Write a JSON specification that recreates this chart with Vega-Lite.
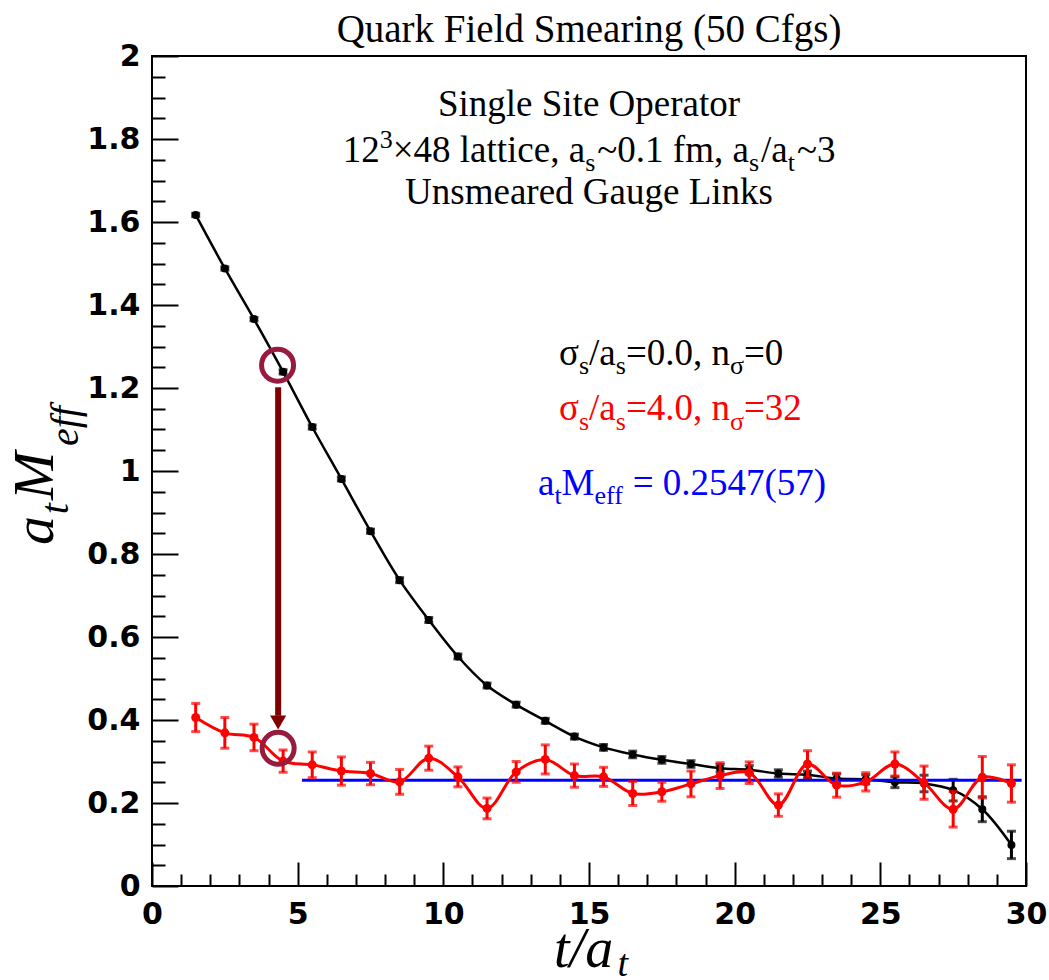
{
  "$schema": "https://vega.github.io/schema/vega-lite/v6.json",
  "width": 874,
  "height": 830,
  "autosize": {"type": "none"},
  "padding": {"left": 152, "top": 56, "right": 23, "bottom": 94},
  "background": "white",
  "config": {
    "view": {"stroke": "black", "strokeWidth": 2},
    "text": {"font": "Liberation Serif"}
  },
  "datasets": {
    "corr": [
      {"t": 1.5, "m": 1.617, "err": 0.004, "series": "unsmeared"},
      {"t": 2.5, "m": 1.488, "err": 0.004, "series": "unsmeared"},
      {"t": 3.5, "m": 1.366, "err": 0.004, "series": "unsmeared"},
      {"t": 4.5, "m": 1.239, "err": 0.005, "series": "unsmeared"},
      {"t": 5.5, "m": 1.106, "err": 0.005, "series": "unsmeared"},
      {"t": 6.5, "m": 0.981, "err": 0.005, "series": "unsmeared"},
      {"t": 7.5, "m": 0.855, "err": 0.005, "series": "unsmeared"},
      {"t": 8.5, "m": 0.737, "err": 0.006, "series": "unsmeared"},
      {"t": 9.5, "m": 0.641, "err": 0.006, "series": "unsmeared"},
      {"t": 10.5, "m": 0.553, "err": 0.006, "series": "unsmeared"},
      {"t": 11.5, "m": 0.483, "err": 0.006, "series": "unsmeared"},
      {"t": 12.5, "m": 0.437, "err": 0.006, "series": "unsmeared"},
      {"t": 13.5, "m": 0.398, "err": 0.006, "series": "unsmeared"},
      {"t": 14.5, "m": 0.36, "err": 0.006, "series": "unsmeared"},
      {"t": 15.5, "m": 0.334, "err": 0.007, "series": "unsmeared"},
      {"t": 16.5, "m": 0.317, "err": 0.008, "series": "unsmeared"},
      {"t": 17.5, "m": 0.304, "err": 0.008, "series": "unsmeared"},
      {"t": 18.5, "m": 0.294, "err": 0.008, "series": "unsmeared"},
      {"t": 19.5, "m": 0.284, "err": 0.009, "series": "unsmeared"},
      {"t": 20.5, "m": 0.28, "err": 0.01, "series": "unsmeared"},
      {"t": 21.5, "m": 0.271, "err": 0.009, "series": "unsmeared"},
      {"t": 22.5, "m": 0.268, "err": 0.009, "series": "unsmeared"},
      {"t": 23.5, "m": 0.259, "err": 0.011, "series": "unsmeared"},
      {"t": 24.5, "m": 0.257, "err": 0.011, "series": "unsmeared"},
      {"t": 25.5, "m": 0.25, "err": 0.013, "series": "unsmeared"},
      {"t": 26.5, "m": 0.247, "err": 0.02, "series": "unsmeared"},
      {"t": 27.5, "m": 0.231, "err": 0.026, "series": "unsmeared"},
      {"t": 28.5, "m": 0.185, "err": 0.03, "series": "unsmeared"},
      {"t": 29.5, "m": 0.099, "err": 0.033, "series": "unsmeared"},
      {"t": 1.5, "m": 0.406, "err": 0.034, "series": "smeared"},
      {"t": 2.5, "m": 0.369, "err": 0.037, "series": "smeared"},
      {"t": 3.5, "m": 0.358, "err": 0.032, "series": "smeared"},
      {"t": 4.5, "m": 0.301, "err": 0.027, "series": "smeared"},
      {"t": 5.5, "m": 0.292, "err": 0.031, "series": "smeared"},
      {"t": 6.5, "m": 0.277, "err": 0.034, "series": "smeared"},
      {"t": 7.5, "m": 0.271, "err": 0.027, "series": "smeared"},
      {"t": 8.5, "m": 0.251, "err": 0.03, "series": "smeared"},
      {"t": 9.5, "m": 0.308, "err": 0.029, "series": "smeared"},
      {"t": 10.5, "m": 0.263, "err": 0.024, "series": "smeared"},
      {"t": 11.5, "m": 0.187, "err": 0.025, "series": "smeared"},
      {"t": 12.5, "m": 0.275, "err": 0.025, "series": "smeared"},
      {"t": 13.5, "m": 0.305, "err": 0.035, "series": "smeared"},
      {"t": 14.5, "m": 0.266, "err": 0.028, "series": "smeared"},
      {"t": 15.5, "m": 0.263, "err": 0.023, "series": "smeared"},
      {"t": 16.5, "m": 0.223, "err": 0.029, "series": "smeared"},
      {"t": 17.5, "m": 0.227, "err": 0.023, "series": "smeared"},
      {"t": 18.5, "m": 0.246, "err": 0.031, "series": "smeared"},
      {"t": 19.5, "m": 0.266, "err": 0.031, "series": "smeared"},
      {"t": 20.5, "m": 0.273, "err": 0.026, "series": "smeared"},
      {"t": 21.5, "m": 0.195, "err": 0.027, "series": "smeared"},
      {"t": 22.5, "m": 0.294, "err": 0.032, "series": "smeared"},
      {"t": 23.5, "m": 0.243, "err": 0.029, "series": "smeared"},
      {"t": 24.5, "m": 0.251, "err": 0.022, "series": "smeared"},
      {"t": 25.5, "m": 0.294, "err": 0.029, "series": "smeared"},
      {"t": 26.5, "m": 0.249, "err": 0.04, "series": "smeared"},
      {"t": 27.5, "m": 0.185, "err": 0.043, "series": "smeared"},
      {"t": 28.5, "m": 0.262, "err": 0.05, "series": "smeared"},
      {"t": 29.5, "m": 0.247, "err": 0.045, "series": "smeared"}
    ],
    "fit": [
      {"t": 5.15, "m": 0.2547, "series": "fit"},
      {"t": 29.85, "m": 0.2547, "series": "fit"}
    ],
    "rings": [
      {"t": 4.31, "m": 1.255},
      {"t": 4.33, "m": 0.332}
    ],
    "arrow": [
      {"t": 4.33, "m": 1.202, "m2": 0.41}
    ],
    "arrowhead": [
      {"t": 4.33, "m": 0.394}
    ],
    "labels": [
      {"txt": "Quark Field Smearing (50 Cfgs)", "t": 15.0, "m": 2.0337, "series": "info", "kind": "heading"},
      {"txt": "Single Site Operator", "t": 15.0, "m": 1.8566, "series": "info", "kind": "line"},
      {"txt": "Unsmeared Gauge Links", "t": 15.0, "m": 1.6434, "series": "info", "kind": "line"},
      {"txt": "12", "t": 6.545, "m": 1.7434, "series": "info", "kind": "main"},
      {"txt": "3", "t": 7.815, "m": 1.7795, "series": "info", "kind": "sub"},
      {"txt": "×48 lattice, a", "t": 8.262, "m": 1.7434, "series": "info", "kind": "main"},
      {"txt": "s", "t": 14.869, "m": 1.7217, "series": "info", "kind": "sub"},
      {"txt": "~0.1 fm, a", "t": 15.285, "m": 1.7434, "series": "info", "kind": "main"},
      {"txt": "s", "t": 20.488, "m": 1.7217, "series": "info", "kind": "sub"},
      {"txt": "/a", "t": 20.904, "m": 1.7434, "series": "info", "kind": "main"},
      {"txt": "t", "t": 21.82, "m": 1.7217, "series": "info", "kind": "sub"},
      {"txt": "~3", "t": 22.137, "m": 1.7434, "series": "info", "kind": "main"},
      {"txt": "σ", "t": 13.97, "m": 1.2566, "series": "unsmeared", "kind": "main"},
      {"txt": "s", "t": 14.656, "m": 1.2349, "series": "unsmeared", "kind": "sub"},
      {"txt": "/a", "t": 15.003, "m": 1.2566, "series": "unsmeared", "kind": "main"},
      {"txt": "s", "t": 15.92, "m": 1.2349, "series": "unsmeared", "kind": "sub"},
      {"txt": "=0.0, n", "t": 16.267, "m": 1.2566, "series": "unsmeared", "kind": "main"},
      {"txt": "σ", "t": 19.841, "m": 1.2349, "series": "unsmeared", "kind": "sub"},
      {"txt": "=0", "t": 20.32, "m": 1.2566, "series": "unsmeared", "kind": "main"},
      {"txt": "σ", "t": 13.97, "m": 1.1217, "series": "smeared", "kind": "main"},
      {"txt": "s", "t": 14.656, "m": 1.1, "series": "smeared", "kind": "sub"},
      {"txt": "/a", "t": 15.003, "m": 1.1217, "series": "smeared", "kind": "main"},
      {"txt": "s", "t": 15.92, "m": 1.1, "series": "smeared", "kind": "sub"},
      {"txt": "=4.0, n", "t": 16.267, "m": 1.1217, "series": "smeared", "kind": "main"},
      {"txt": "σ", "t": 19.841, "m": 1.1, "series": "smeared", "kind": "sub"},
      {"txt": "=32", "t": 20.32, "m": 1.1217, "series": "smeared", "kind": "main"},
      {"txt": "a", "t": 13.249, "m": 0.941, "series": "fit", "kind": "main"},
      {"txt": "t", "t": 13.812, "m": 0.9193, "series": "fit", "kind": "sub"},
      {"txt": "M", "t": 14.059, "m": 0.941, "series": "fit", "kind": "main"},
      {"txt": "eff", "t": 15.189, "m": 0.9193, "series": "fit", "kind": "sub"},
      {"txt": "= 0.2547(57)", "t": 16.498, "m": 0.941, "series": "fit", "kind": "main"}
    ],
    "xtitle": [
      {"txt": "t/a", "t": 13.8, "m": -0.1952, "kind": "main"},
      {"txt": "t", "t": 15.98, "m": -0.2169, "kind": "sub"}
    ],
    "ytitle": [
      {"txt": "a", "t": -3.398, "m": 0.8217, "kind": "main"},
      {"txt": "t", "t": -2.883, "m": 0.896, "kind": "sub"},
      {"txt": "M", "t": -3.398, "m": 0.93, "kind": "main"},
      {"txt": "eff", "t": -2.54, "m": 1.0602, "kind": "sub"}
    ]
  },
  "encoding": {
    "x": {
      "field": "t",
      "type": "quantitative",
      "scale": {"domain": [0, 30], "nice": false, "zero": false},
      "axis": {
        "title": null,
        "domain": false,
        "grid": false,
        "values": [0, 1, 2, 3, 4, 5, 6, 7, 8, 9, 10, 11, 12, 13, 14, 15, 16, 17, 18, 19, 20, 21, 22, 23, 24, 25, 26, 27, 28, 29, 30],
        "labelExpr": "datum.value % 5 === 0 ? datum.label : ''",
        "tickSize": {"condition": {"test": "datum.value % 5 === 0", "value": -24}, "value": -12},
        "tickColor": "black",
        "tickWidth": 2,
        "labelPadding": 37,
        "labelFlush": false,
        "labelOverlap": false,
        "labelFont": "DejaVu Sans",
        "labelFontWeight": "bold",
        "labelFontSize": 30,
        "labelColor": "black"
      }
    },
    "y": {
      "field": "m",
      "type": "quantitative",
      "scale": {"domain": [0, 2], "nice": false, "zero": false},
      "axis": {
        "title": null,
        "domain": false,
        "grid": false,
        "values": [0, 0.05, 0.1, 0.15, 0.2, 0.25, 0.3, 0.35, 0.4, 0.45, 0.5, 0.55, 0.6, 0.65, 0.7, 0.75, 0.8, 0.85, 0.9, 0.95, 1, 1.05, 1.1, 1.15, 1.2, 1.25, 1.3, 1.35, 1.4, 1.45, 1.5, 1.55, 1.6, 1.65, 1.7, 1.75, 1.8, 1.85, 1.9, 1.95, 2],
        "format": ".1~f",
        "labelExpr": "abs(datum.value * 5 - round(datum.value * 5)) < 1e-6 ? datum.label : ''",
        "tickSize": {"condition": {"test": "abs(datum.value * 5 - round(datum.value * 5)) < 1e-6", "value": -26}, "value": -13},
        "tickColor": "black",
        "tickWidth": 2,
        "labelPadding": 38,
        "labelFlush": false,
        "labelOverlap": false,
        "labelFont": "DejaVu Sans",
        "labelFontWeight": "bold",
        "labelFontSize": 30,
        "labelColor": "black"
      }
    }
  },
  "layer": [
    {
      "data": {"name": "corr"},
      "transform": [{"filter": "datum.series === 'unsmeared'"}],
      "mark": {"type": "line", "interpolate": "catmull-rom", "strokeWidth": 2.5},
      "encoding": {
        "color": {"field": "series", "type": "nominal", "legend": null,
          "scale": {"domain": ["unsmeared", "smeared", "fit", "info"], "range": ["#000000", "#ff0000", "#0000ff", "#000000"]}}
      }
    },
    {
      "data": {"name": "corr"},
      "transform": [{"filter": "datum.series === 'unsmeared'"}],
      "mark": {"type": "errorbar", "ticks": true, "size": 9, "thickness": 3},
      "encoding": {
        "yError": {"field": "err"},
        "color": {"field": "series", "type": "nominal", "legend": null}
      }
    },
    {
      "data": {"name": "corr"},
      "transform": [{"filter": "datum.series === 'unsmeared'"}],
      "mark": {"type": "point", "shape": "circle", "filled": true, "size": 64, "opacity": 1},
      "encoding": {
        "color": {"field": "series", "type": "nominal", "legend": null}
      }
    },
    {
      "data": {"name": "fit"},
      "mark": {"type": "line", "strokeWidth": 3},
      "encoding": {
        "color": {"field": "series", "type": "nominal", "legend": null}
      }
    },
    {
      "data": {"name": "corr"},
      "transform": [{"filter": "datum.series === 'smeared'"}],
      "mark": {"type": "line", "interpolate": "catmull-rom", "strokeWidth": 3},
      "encoding": {
        "color": {"field": "series", "type": "nominal", "legend": null}
      }
    },
    {
      "data": {"name": "corr"},
      "transform": [{"filter": "datum.series === 'smeared'"}],
      "mark": {"type": "errorbar", "ticks": true, "size": 9, "thickness": 3},
      "encoding": {
        "yError": {"field": "err"},
        "color": {"field": "series", "type": "nominal", "legend": null}
      }
    },
    {
      "data": {"name": "corr"},
      "transform": [{"filter": "datum.series === 'smeared'"}],
      "mark": {"type": "point", "shape": "circle", "filled": true, "size": 81, "opacity": 1},
      "encoding": {
        "color": {"field": "series", "type": "nominal", "legend": null}
      }
    },
    {
      "data": {"name": "rings"},
      "mark": {"type": "point", "shape": "circle", "filled": false, "size": 1024, "strokeWidth": 5, "color": "#981a3c", "opacity": 1}
    },
    {
      "data": {"name": "arrow"},
      "mark": {"type": "rule", "color": "#800000", "strokeWidth": 6},
      "encoding": {"y2": {"field": "m2"}}
    },
    {
      "data": {"name": "arrowhead"},
      "mark": {"type": "point", "shape": "triangle-down", "filled": true, "size": 260, "color": "#800000", "opacity": 1}
    },
    {
      "data": {"name": "labels"},
      "transform": [{"filter": "datum.kind === 'heading'"}],
      "mark": {"type": "text", "align": "center", "baseline": "alphabetic", "fontSize": 39},
      "encoding": {
        "text": {"field": "txt"},
        "color": {"field": "series", "type": "nominal", "legend": null}
      }
    },
    {
      "data": {"name": "labels"},
      "transform": [{"filter": "datum.kind === 'line'"}],
      "mark": {"type": "text", "align": "center", "baseline": "alphabetic", "fontSize": 37},
      "encoding": {
        "text": {"field": "txt"},
        "color": {"field": "series", "type": "nominal", "legend": null}
      }
    },
    {
      "data": {"name": "labels"},
      "transform": [{"filter": "datum.kind === 'main'"}],
      "mark": {"type": "text", "align": "left", "baseline": "alphabetic", "fontSize": 37},
      "encoding": {
        "text": {"field": "txt"},
        "color": {"field": "series", "type": "nominal", "legend": null}
      }
    },
    {
      "data": {"name": "labels"},
      "transform": [{"filter": "datum.kind === 'sub'"}],
      "mark": {"type": "text", "align": "left", "baseline": "alphabetic", "fontSize": 26},
      "encoding": {
        "text": {"field": "txt"},
        "color": {"field": "series", "type": "nominal", "legend": null}
      }
    },
    {
      "data": {"name": "xtitle"},
      "transform": [{"filter": "datum.kind === 'main'"}],
      "mark": {"type": "text", "align": "left", "baseline": "alphabetic", "fontSize": 56, "fontStyle": "italic", "color": "black"},
      "encoding": {"text": {"field": "txt"}}
    },
    {
      "data": {"name": "xtitle"},
      "transform": [{"filter": "datum.kind === 'sub'"}],
      "mark": {"type": "text", "align": "left", "baseline": "alphabetic", "fontSize": 38, "fontStyle": "italic", "color": "black"},
      "encoding": {"text": {"field": "txt"}}
    },
    {
      "data": {"name": "ytitle"},
      "transform": [{"filter": "datum.kind === 'main'"}],
      "mark": {"type": "text", "align": "left", "baseline": "alphabetic", "angle": 270, "fontSize": 58, "fontStyle": "italic", "color": "black"},
      "encoding": {"text": {"field": "txt"}}
    },
    {
      "data": {"name": "ytitle"},
      "transform": [{"filter": "datum.kind === 'sub'"}],
      "mark": {"type": "text", "align": "left", "baseline": "alphabetic", "angle": 270, "fontSize": 40, "fontStyle": "italic", "color": "black"},
      "encoding": {"text": {"field": "txt"}}
    }
  ]
}
